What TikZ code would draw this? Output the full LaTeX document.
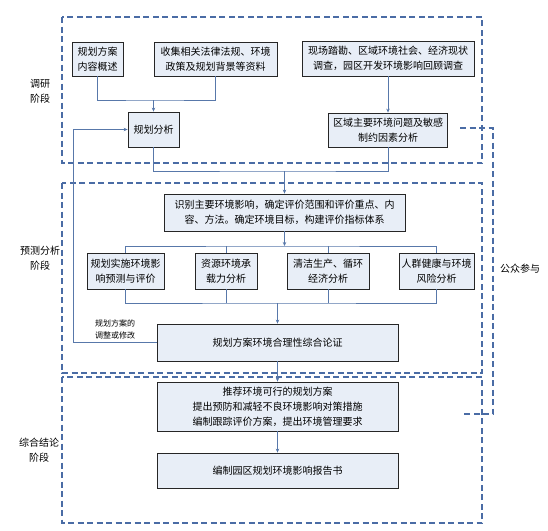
\documentclass[tikz,border=0pt]{standalone}
\usepackage{fontspec}
\setmainfont{Noto Sans CJK SC}
\usetikzlibrary{arrows.meta}
\definecolor{boxfill}{RGB}{232,238,247}
\definecolor{lnk}{RGB}{88,120,170}
\definecolor{stagecol}{RGB}{74,108,165}
\tikzset{
  bx/.style={draw=black!85, line width=0.8pt, fill=boxfill, inner sep=0pt, align=center,
    font=\fontsize{10}{15}\selectfont},
  lk/.style={draw=lnk, line width=0.9pt},
  ar/.style={lk, -{Stealth[length=4pt,width=3.5pt]}},
  stagebox/.style={draw=stagecol, line width=1.6pt, dash pattern=on 6pt off 3.5pt},
  lab/.style={align=center, font=\fontsize{10}{15}\selectfont, inner sep=0pt},
  small/.style={align=center, font=\fontsize{8}{12}\selectfont, inner sep=0pt}
}
\begin{document}
\begin{tikzpicture}[x=1pt,y=-1pt]
\useasboundingbox (0,0) rectangle (548,530);
% stage frames
\draw[stagebox] (62,17) rectangle (482,163);
\draw[stagebox] (62,183) rectangle (482,373);
\draw[stagebox] (62,377) rectangle (482,523);
% public participation bracket
\coordinate (pp1) at (460,128);
\coordinate (pp2) at (461,414);
\draw[stagebox] (pp1) -- (493,128) -- (493,414) -- (pp2);
\node[lab] (ppl) at (520,269) {公众参与};
% stage labels
\node[lab] (s1) at (40,91) {调研\\阶段};
\node[lab] (s2) at (40,258) {预测分析\\阶段};
\node[lab] (s3) at (39,450) {综合结论\\阶段};
% survey stage
\node[bx, minimum width=51pt, minimum height=34pt] (a) at (97.5,59) {规划方案\\内容概述};
\node[bx, minimum width=123pt, minimum height=34pt] (b) at (215.5,59) {收集相关法律法规、环境\\政策及规划背景等资料};
\node[bx, minimum width=172pt, minimum height=35pt] (c) at (388,58.5) {现场踏勘、区域环境社会、经济现状\\调查，园区开发环境影响回顾调查};
\node[bx, minimum width=51pt, minimum height=35pt] (fx) at (153.5,129.5) {规划分析};
\node[bx, minimum width=119pt, minimum height=34pt] (d) at (388,130) {区域主要环境问题及敏感\\制约因素分析};
\coordinate (j1) at (153.5,100);
\draw[lk] (a.south) |- (j1) -| (b.south);
\draw[ar] (j1) -- (fx.north);
\draw[ar] (c.south) -- (d.north);
% prediction stage
\node[bx, minimum width=241pt, minimum height=37pt] (e) at (284.5,212.5) {识别主要环境影响，确定评价范围和评价重点、内\\容、方法。确定环境目标，构建评价指标体系};
\coordinate (j2) at (284.5,171);
\draw[lk] (fx.south) |- (j2) -| (d.south);
\draw[ar] (j2) -- (e.north);
\node[bx, minimum width=77pt, minimum height=36pt] (f1) at (125.5,271) {规划实施环境影\\响预测与评价};
\node[bx, minimum width=62pt, minimum height=36pt] (f2) at (226,271) {资源环境承\\载力分析};
\node[bx, minimum width=82pt, minimum height=36pt] (f3) at (328,271) {清洁生产、循环\\经济分析};
\node[bx, minimum width=75pt, minimum height=36pt] (f4) at (436.5,271) {人群健康与环境\\风险分析};
\coordinate (j3) at (284.5,246);
\draw[ar] (e.south) -- (j3);
\draw[lk] (f1.north) |- (j3) -| (f4.north);
\draw[lk] (f2.north) -- (f2.north |- j3);
\draw[lk] (f3.north) -- (f3.north |- j3);
\node[bx, minimum width=241pt, minimum height=37pt] (g) at (277.5,342.5) {规划方案环境合理性综合论证};
\coordinate (j4) at (277.5,303);
\draw[lk] (f1.south) |- (j4) -| (f4.south);
\draw[lk] (f2.south) -- (f2.south |- j4);
\draw[lk] (f3.south) -- (f3.south |- j4);
\draw[ar] (j4) -- (g.north);
% feedback
\coordinate (fb) at (73,342.5);
\draw[ar] (g.west) -- (fb) |- (fx.west);
\node[small] (fbl) at (115,329) {规划方案的\\调整或修改};
% conclusion stage
\node[bx, minimum width=241pt, minimum height=49pt] (h) at (277.5,406.5) {推荐环境可行的规划方案\\提出预防和减轻不良环境影响对策措施\\编制跟踪评价方案，提出环境管理要求};
\node[bx, minimum width=241pt, minimum height=35pt] (i) at (277.5,470.5) {编制园区规划环境影响报告书};
\draw[ar] (g.south) -- (h.north);
\draw[ar] (h.south) -- (i.north);
\end{tikzpicture}
\end{document}
